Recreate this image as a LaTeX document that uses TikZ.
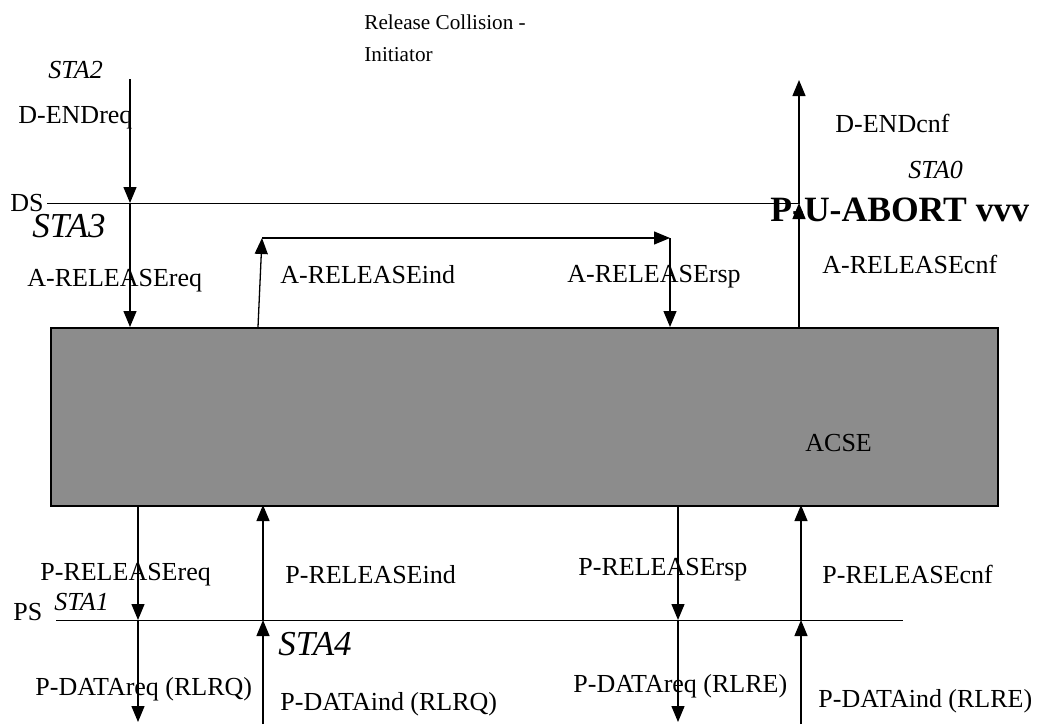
\documentclass[tikz,border=0pt]{standalone}
\usepackage{fontspec}
\setmainfont{Liberation Serif}
\usetikzlibrary{arrows.meta,calc}
\definecolor{BoxClr}{rgb}{0.55,0.55,0.55}

\begin{document}
\begin{tikzpicture}[x=0.5pt,y=-0.5pt,
  lbl/.style={anchor=base west,inner sep=0pt,font=\fontsize{13}{15}\selectfont},
  sta/.style={anchor=base west,inner sep=0pt,font=\fontsize{13}{15}\selectfont\itshape},
  bigsta/.style={anchor=base west,inner sep=0pt,font=\fontsize{17.5}{20}\selectfont\itshape},
  flow/.style={line width=0.65pt,-{Triangle[length=8pt,width=6.5pt]}},
  level/.style={line width=0.5pt}]
\useasboundingbox (0,0) rectangle (1048,724);

\node[draw,fill=BoxClr,line width=0.75pt,minimum width=473.5pt,minimum height=89pt,
  anchor=north west,inner sep=0pt] (acse) at (50,327) {};
\node[lbl] (acseLbl) at (805,451) {ACSE};

\coordinate (dsW) at (47,203);
\coordinate (dsE) at (800,203);
\coordinate (psW) at (56,620);
\coordinate (psE) at (903,620);
\draw[level] (dsW) -- (dsE);
\draw[level] (psW) -- (psE);

% upper side
\coordinate (sta2Top) at (130,79);
\coordinate (dsReq) at (130,203);
\coordinate (aReq) at (130,327);
\coordinate (aInd) at (258,327);
\coordinate (indTop) at (262,238);
\coordinate (rspTop) at (670,238);
\coordinate (aRsp) at (670,327);
\coordinate (aCnf) at (799,327);
\coordinate (dsCnf) at (799,203);
\coordinate (cnfTop) at (799,80);

\draw[flow] (sta2Top) -- (dsReq);
\draw[flow] (dsReq) -- (aReq);
\draw[flow] (aInd) -- (indTop);
\draw[flow] (indTop) -- (rspTop);
\draw[flow] (rspTop) -- (aRsp);
\draw[flow] (aCnf) -- (dsCnf);
\draw[flow] (dsCnf) -- (cnfTop);

% lower side
\coordinate (pReq) at (138,505);
\coordinate (psReq) at (138,620);
\coordinate (dReq) at (138,722);
\coordinate (pInd) at (263,505);
\coordinate (psInd) at (263,620);
\coordinate (dInd) at (263,724);
\coordinate (pRsp) at (678,505);
\coordinate (psRsp) at (678,620);
\coordinate (dRsp) at (678,722);
\coordinate (pCnf) at (801,505);
\coordinate (psCnf) at (801,620);
\coordinate (dCnf) at (801,724);

\draw[flow] (pReq) -- (psReq);
\draw[flow] (psReq) -- (dReq);
\draw[flow] (dInd) -- (psInd);
\draw[flow] (psInd) -- (pInd);
\draw[flow] (pRsp) -- (psRsp);
\draw[flow] (psRsp) -- (dRsp);
\draw[flow] (dCnf) -- (psCnf);
\draw[flow] (psCnf) -- (pCnf);

% texts
\node[anchor=base west,inner sep=0pt,font=\fontsize{10.6}{16}\selectfont] (title) at (364,29)
  {Release Collision -};
\node[anchor=base west,inner sep=0pt,font=\fontsize{10.6}{16}\selectfont] (title2) at (364,61)
  {Initiator};
\node[sta] (sta2) at (48,78) {STA2};
\node[lbl] (dEndReq) at (18,123) {D-ENDreq};
\node[lbl] (ds) at (10,211) {DS};
\node[bigsta] (sta3) at (32,237) {STA3};
\node[lbl] (aRelReq) at (27,286) {A-RELEASEreq};
\node[lbl] (aRelInd) at (280,283) {A-RELEASEind};
\node[lbl] (aRelRsp) at (567,282) {A-RELEASErsp};
\node[lbl] (dEndCnf) at (835,132) {D-ENDcnf};
\node[sta] (sta0) at (908,178) {STA0};
\node[anchor=base west,inner sep=0pt,font=\fontsize{17.8}{20}\selectfont\bfseries] (abort) at (770,221) {P-U-ABORT vvv};
\node[lbl] (aRelCnf) at (822,273) {A-RELEASEcnf};

\node[lbl] (pRelReq) at (40,580) {P-RELEASEreq};
\node[lbl] (pRelInd) at (285,583) {P-RELEASEind};
\node[lbl] (pRelRsp) at (578,575) {P-RELEASErsp};
\node[lbl] (pRelCnf) at (822,583) {P-RELEASEcnf};
\node[lbl] (ps) at (13,620) {PS};
\node[sta] (sta1) at (54,610) {STA1};
\node[bigsta] (sta4) at (278,655) {STA4};
\node[lbl] (pDatReq1) at (35,695) {P-DATAreq (RLRQ)};
\node[lbl] (pDatInd1) at (280,710) {P-DATAind (RLRQ)};
\node[lbl] (pDatReq2) at (573,692) {P-DATAreq (RLRE)};
\node[lbl] (pDatInd2) at (818,707) {P-DATAind (RLRE)};

\end{tikzpicture}
\end{document}
